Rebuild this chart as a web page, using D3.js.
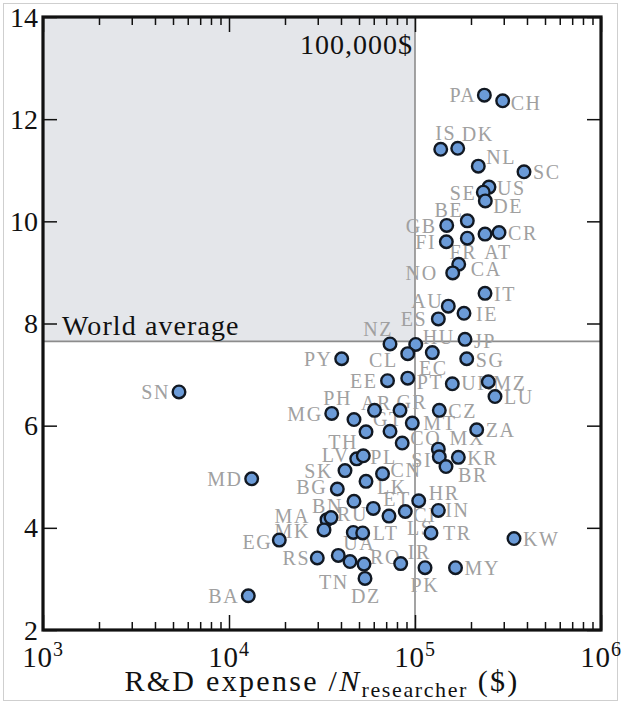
<!DOCTYPE html>
<html><head><meta charset="utf-8">
<script src="https://cdn.jsdelivr.net/npm/d3@7"></script>
<style>body{margin:0;background:#fff}svg{display:block}</style>
</head><body>
<script>
// ---- data ----
const codes = ["PA","CH","IS","DK","NL","SC","US","SE","DE","BE","GB","FI","FR","AT","CR","CA","NO","IT","AU","IE","ES","NZ","HU","JP","CL","EC","SG","PY","EE","PT","UK","MZ","LU","PH","AR","GR","MG","CZ","MT","TH","GT","ZA","CO","MX","SI","KR","BR","LV","PL","SK","CN","LK","BG","BN","ET","LS","CI","HR","IN","MA","RU","MK","EG","UA","LT","TR","KW","RS","","TN","RO","DZ","IR","PK","MY","SN","MD","BA"];
const expense = [236000,296000,137500,169700,218900,385500,249900,232900,238800,191100,148100,147400,191100,237900,282900,171800,159500,237900,151000,183400,133500,73400,100900,185700,91400,123900,189700,40350,71160,91400,158700,247800,269200,46990,60570,83070,35670,135100,96700,54530,73400,214600,85350,133500,135100,171000,146800,48600,52720,42040,66900,54530,38220,46990,59670,72480,88680,104700,133500,33640,35360,32420,18640,46590,52340,121900,340600,29830,38690,44720,53190,53850,83760,113200,165100,5384,13240,12700];
const indexVals = [12.47,12.36,11.41,11.43,11.08,10.97,10.67,10.57,10.40,10.01,9.92,9.60,9.67,9.75,9.78,9.16,8.99,8.59,8.34,8.20,8.09,7.60,7.59,7.69,7.41,7.43,7.31,7.31,6.88,6.93,6.82,6.86,6.57,6.12,6.30,6.30,6.24,6.30,6.05,5.88,5.89,5.92,5.66,5.54,5.39,5.38,5.20,5.35,5.41,5.12,5.06,4.91,4.76,4.52,4.38,4.23,4.32,4.53,4.34,4.16,4.20,3.96,3.76,3.91,3.90,3.90,3.79,3.41,3.46,3.34,3.29,3.01,3.30,3.22,3.22,6.66,4.96,2.67];
const xMajorTicks = [1e3,1e4,1e5,1e6];
const xTickExponents = ["3","4","5","6"];
const yTicks = [2,4,6,8,10,12,14];
const worldAverage = 7.65;
const threshold = 1e5;
const thresholdLabel = "100,000$";
const averageLabel = "World average";

// ---- label layout (anchor, dx, dy in px from point) ----
const labelLayout = {
 PA:["end",-8,0],CH:["start",8,2],IS:["middle",5,-17],DK:["start",4,-14],NL:["start",8,-9],SC:["start",9,0],
 US:["start",8,1],SE:["end",-7,1],DE:["start",8,5],BE:["end",-4,-11],GB:["end",-10,0],FI:["end",-10,0],
 FR:["middle",-4,14],AT:["middle",13,18],CR:["start",9,0],CA:["start",12,5],NO:["end",-15,0],IT:["start",9,0],
 AU:["end",-5,-5],IE:["start",12,1],ES:["end",-11,0],NZ:["end",3,-15],HU:["start",7,-8],JP:["start",9,1],
 CL:["end",-10,6],EC:["middle",1,15],SG:["start",9,1],PY:["end",-9,0],EE:["end",-10,0],PT:["start",9,4],
 UK:["start",9,-1],MZ:["start",5,1],LU:["start",9,0],PH:["end",-2,-22],AR:["middle",2,-8],GR:["middle",12,-9],
 MG:["end",-9,0],CZ:["start",9,0],MT:["start",11,0],TH:["end",-8,10],GT:["middle",-2,-12],ZA:["start",9,0],
 CO:["start",8,-5],MX:["middle",29,-11],SI:["end",-7,3],KR:["start",9,0],BR:["start",12,8],LV:["end",-7,-4],
 PL:["start",7,1],SK:["end",-12,0],CN:["start",8,-4],LK:["start",11,5],BG:["end",-10,-2],BN:["end",-11,5],
 ET:["start",10,-10],LS:["start",18,12],CI:["start",8,3],HR:["start",10,-8],IN:["start",7,-1],MA:["end",-17,-4],
 RU:["start",6,-4],MK:["end",-14,1],EG:["end",-7,2],UA:["middle",6,10],LT:["start",10,0],TR:["start",12,0],
 KW:["start",9,0],RS:["end",-7,0],TN:["middle",-16,20],RO:["start",6,-7],DZ:["middle",1,17],IR:["start",7,-12],
 PK:["middle",0,17],MY:["start",9,0],SN:["end",-9,0],MD:["end",-9,0],BA:["end",-9,0]
};

const W = 622, H = 704;
const m = {left:43, right:601, top:17, bottom:630};
const serif = "'Liberation Serif','DejaVu Serif',serif";

const svg = d3.select("body").append("svg").attr("width",W).attr("height",H);

// outer light frame
svg.append("rect").attr("x",3.5).attr("y",3.5).attr("width",614).attr("height",697)
  .attr("fill","none").attr("stroke","#cfcfcf").attr("stroke-width",1);

const x = d3.scaleLog().domain([1e3,1e6]).range([m.left,m.right]);
const y = d3.scaleLinear().domain([2,14]).range([m.bottom,m.top]);

// shaded quadrant
svg.append("rect")
  .attr("x",x(1e3)).attr("y",y(14))
  .attr("width",x(threshold)-x(1e3)).attr("height",y(worldAverage)-y(14))
  .attr("fill","#e4e6ea");

// reference lines
svg.append("line").attr("x1",x(threshold)).attr("x2",x(threshold)).attr("y1",y(14)).attr("y2",y(2))
  .attr("stroke","#8c8c8c").attr("stroke-width",1.6);
svg.append("line").attr("x1",x(1e3)).attr("x2",x(1e6)).attr("y1",y(worldAverage)).attr("y2",y(worldAverage))
  .attr("stroke","#8c8c8c").attr("stroke-width",1.6);

// minor ticks
const minor = [];
[1e3,1e4,1e5].forEach(d => { for (let k=2;k<=9;k++) minor.push(d*k); });

function styleAxis(g){
  g.select(".domain").remove();
  g.selectAll(".tick line").attr("stroke","#111").attr("stroke-width",1.5);
  g.selectAll(".tick text").remove();
}
const axB = d3.axisBottom(x).tickValues(xMajorTicks).tickSize(-15).tickFormat("");
const axBm = d3.axisBottom(x).tickValues(minor).tickSize(-8).tickFormat("");
const axT = d3.axisTop(x).tickValues(xMajorTicks).tickSize(-15).tickFormat("");
const axTm = d3.axisTop(x).tickValues(minor).tickSize(-8).tickFormat("");
const axL = d3.axisLeft(y).tickValues(yTicks).tickSize(-14).tickFormat("");
const axR = d3.axisRight(y).tickValues(yTicks).tickSize(-14).tickFormat("");
svg.append("g").attr("transform",`translate(0,${m.bottom})`).call(axB).call(styleAxis);
svg.append("g").attr("transform",`translate(0,${m.bottom})`).call(axBm).call(styleAxis);
svg.append("g").attr("transform",`translate(0,${m.top})`).call(axT).call(styleAxis);
svg.append("g").attr("transform",`translate(0,${m.top})`).call(axTm).call(styleAxis);
svg.append("g").attr("transform",`translate(${m.left},0)`).call(axL).call(styleAxis);
svg.append("g").attr("transform",`translate(${m.right},0)`).call(axR).call(styleAxis);

// frame
svg.append("rect").attr("x",m.left).attr("y",m.top).attr("width",m.right-m.left).attr("height",m.bottom-m.top)
  .attr("fill","none").attr("stroke","#111").attr("stroke-width",3.2);

// y tick labels
svg.append("g").selectAll("text").data(yTicks).join("text")
  .attr("x",m.left-5).attr("y",d=>y(d)).attr("dy","0.34em")
  .attr("text-anchor","end").attr("font-family",serif).attr("font-size",28).attr("fill","#111")
  .text(d=>d);

// x tick labels with superscripts
const xl = svg.append("g").selectAll("text").data(xMajorTicks).join("text")
  .attr("x",d=>x(d)).attr("y",667).attr("text-anchor","middle")
  .attr("font-family",serif).attr("font-size",29).attr("letter-spacing",0.8).attr("fill","#111");
xl.append("tspan").text("10");
xl.append("tspan").attr("dy",-11).attr("font-size",20).text((d,i)=>xTickExponents[i]);

// axis title
const t = svg.append("text").attr("x",322).attr("y",691).attr("text-anchor","middle")
  .attr("font-family",serif).attr("font-size",30).attr("letter-spacing",2.3).attr("fill","#111");
t.append("tspan").text("R&D expense /");
t.append("tspan").attr("font-style","italic").text("N");
t.append("tspan").attr("dy",6).attr("font-size",22).attr("letter-spacing",1.6).text("researcher");
t.append("tspan").attr("dy",-6).text(" ($)");

// annotations
svg.append("text").attr("x",x(threshold)-2).attr("y",54).attr("text-anchor","end")
  .attr("font-family",serif).attr("font-size",28).attr("letter-spacing",1).attr("fill","#111").text(thresholdLabel);
svg.append("text").attr("x",x(1e3)+19).attr("y",y(worldAverage)-6)
  .attr("font-family",serif).attr("font-size",28).attr("letter-spacing",1.1).attr("fill","#111").text(averageLabel);

// data
const data = codes.map((c,i)=>({code:c, x:expense[i], y:indexVals[i]}));

// labels (behind dots)
svg.append("g").selectAll("text").data(data.filter(d=>d.code && labelLayout[d.code])).join("text")
  .attr("x",d=>x(d.x)+labelLayout[d.code][1])
  .attr("y",d=>y(d.y)+labelLayout[d.code][2])
  .attr("dy","0.36em")
  .attr("text-anchor",d=>labelLayout[d.code][0])
  .attr("font-family",serif).attr("font-size",20).attr("letter-spacing",1.6)
  .attr("fill","#a0a0a0").text(d=>d.code);

// dots
svg.append("g").selectAll("circle").data(data).join("circle")
  .attr("cx",d=>x(d.x)).attr("cy",d=>y(d.y)).attr("r",6.3)
  .attr("fill","#6b9bd8").attr("stroke","#111822").attr("stroke-width",2.4);
</script>
</body></html>
